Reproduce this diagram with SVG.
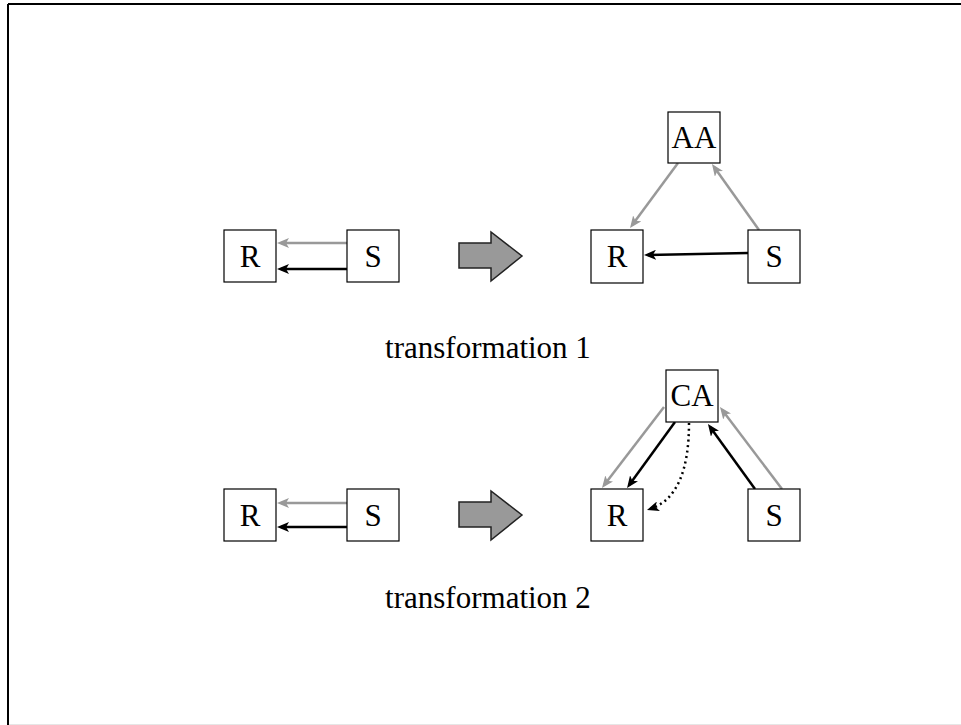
<svg xmlns="http://www.w3.org/2000/svg" width="961" height="725" viewBox="0 0 961 725">
<style>
.box{fill:#fff;stroke:#000;stroke-width:1.2}
.lbl{font-family:"Liberation Serif","Times New Roman",serif;font-size:31px;fill:#000;text-anchor:middle}
.blk{stroke:#000;stroke-width:2.5;fill:none}
.gry{stroke:#999;stroke-width:2.5;fill:none}
.big{fill:#999;stroke:#222;stroke-width:1.5;stroke-linejoin:miter}
</style>
<defs>
<marker id="ab" viewBox="0 0 12 10" markerWidth="12" markerHeight="10" markerUnits="userSpaceOnUse" refX="8" refY="5" orient="auto"><path d="M0,0 L12,5 L0,10 L3,5 z" fill="#000"/></marker>
<marker id="ag" viewBox="0 0 12 10" markerWidth="12" markerHeight="10" markerUnits="userSpaceOnUse" refX="8" refY="5" orient="auto"><path d="M0,0 L12,5 L0,10 L3,5 z" fill="#999"/></marker>
</defs>
<rect x="0" y="0" width="961" height="725" fill="#fff"/>
<g id="frame">
<line x1="8" y1="4" x2="8" y2="725" stroke="#000" stroke-width="2"/>
<line x1="8" y1="4" x2="961" y2="4" stroke="#000" stroke-width="2"/>
<line x1="9" y1="724.5" x2="961" y2="724.5" stroke="#e6e6e6" stroke-width="1"/>
</g>
<g id="connectors">
<line class="gry" x1="347" y1="243" x2="281" y2="243" marker-end="url(#ag)"/>
<line class="blk" x1="347" y1="269" x2="281" y2="269" marker-end="url(#ab)"/>
<line class="gry" x1="678" y1="163" x2="632.4" y2="224.8" marker-end="url(#ag)"/>
<line class="gry" x1="759" y1="230" x2="714.3" y2="167.3" marker-end="url(#ag)"/>
<line class="blk" x1="748" y1="253" x2="648" y2="254.9" marker-end="url(#ab)"/>
<line class="gry" x1="347" y1="503" x2="281" y2="503" marker-end="url(#ag)"/>
<line class="blk" x1="347" y1="527" x2="281" y2="527" marker-end="url(#ab)"/>
<line class="gry" x1="664" y1="407" x2="604.4" y2="484.8" marker-end="url(#ag)"/>
<line class="blk" x1="675" y1="422" x2="629.4" y2="484.8" marker-end="url(#ab)"/>
<line class="blk" x1="755" y1="489" x2="710.3" y2="427.2" marker-end="url(#ab)"/>
<line class="gry" x1="782" y1="489" x2="722.4" y2="410.2" marker-end="url(#ag)"/>
<path class="blk" d="M689,423 C689,470 677,500 650.8,508.7" stroke-dasharray="2 3.5" marker-end="url(#ab)"/>
</g>
<g id="bigarrow1"><polygon class="big" points="459,243 491,243 491,232 522,256 491,281 491,268 459,268"/></g>
<g id="bigarrow2"><polygon class="big" points="459,502 491,502 491,491 522,515 491,540 491,527 459,527"/></g>
<g id="r1"><rect class="box" x="224" y="230" width="52" height="52"/><text class="lbl" x="250" y="267">R</text></g>
<g id="s1"><rect class="box" x="347" y="230" width="52" height="52"/><text class="lbl" x="373" y="267">S</text></g>
<g id="aa"><rect class="box" x="668" y="112" width="52" height="51"/><text class="lbl" x="694" y="148">AA</text></g>
<g id="r1b"><rect class="box" x="591" y="230" width="52" height="53"/><text class="lbl" x="617" y="267">R</text></g>
<g id="s1b"><rect class="box" x="748" y="230" width="52" height="53"/><text class="lbl" x="774" y="267">S</text></g>
<g id="r2"><rect class="box" x="224" y="489" width="52" height="52"/><text class="lbl" x="250" y="526">R</text></g>
<g id="s2"><rect class="box" x="347" y="489" width="52" height="52"/><text class="lbl" x="373" y="526">S</text></g>
<g id="ca"><rect class="box" x="666" y="370" width="52" height="52"/><text class="lbl" x="692" y="406">CA</text></g>
<g id="r2b"><rect class="box" x="591" y="489" width="52" height="52"/><text class="lbl" x="617" y="526">R</text></g>
<g id="s2b"><rect class="box" x="748" y="489" width="52" height="52"/><text class="lbl" x="774" y="526">S</text></g>
<g id="label1"><text class="lbl" x="488" y="358">transformation 1</text></g>
<g id="label2"><text class="lbl" x="488" y="608">transformation 2</text></g>
</svg>
